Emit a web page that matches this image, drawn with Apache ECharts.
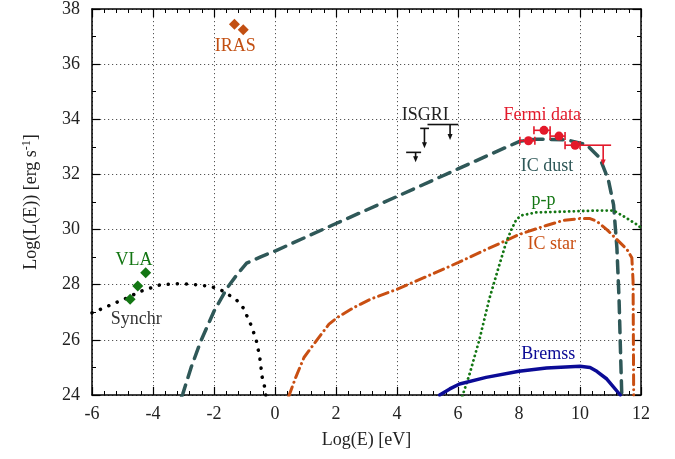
<!DOCTYPE html>
<html><head><meta charset="utf-8">
<script src="https://cdn.jsdelivr.net/npm/echarts@6/dist/echarts.min.js"></script>
<style>html,body{margin:0;padding:0;background:#fff}#c{width:675px;height:459px}</style>
</head><body><div id="c"></div>
<script>
// ---- data (log E [eV], log L [erg/s]) ----
const synchr = [[-6,26.98],[-5.9,27.02],[-5.32,27.3],[-4.89,27.5],[-4.41,27.76],[-3.76,28.0],[-3.1,28.04],[-2.75,28.02],[-2.1,27.94],[-1.68,27.76],[-1.25,27.43],[-1.04,27.16],[-0.77,26.5],[-0.61,25.96],[-0.5,25.37],[-0.42,24.65],[-0.34,24.29],[-0.3,24.0]];
const icDust = [[-3.06,23.95],[-3.02,24.05],[-2.75,25.0],[-2.43,25.96],[-2.0,27.04],[-1.57,27.88],[-1.25,28.36],[-0.93,28.78],[-0.45,29.02],[0,29.22],[2,30.22],[4,31.2],[6,32.2],[7.04,32.72],[8.02,33.2],[8.57,33.28],[9.55,33.26],[10.21,33.08],[10.65,32.6],[10.93,31.8],[11.1,30.9],[11.21,29.34],[11.28,27.5],[11.33,25.5],[11.37,24.0]];
const icStar = [[0.45,23.95],[0.47,24.0],[0.68,24.64],[0.95,25.36],[1.39,26.02],[1.77,26.57],[2.04,26.81],[2.58,27.17],[3.12,27.47],[3.99,27.83],[4.75,28.19],[6.0,28.8],[6.81,29.22],[7.57,29.6],[8.0,29.82],[8.87,30.14],[9.45,30.33],[10.0,30.4],[10.33,30.4],[10.55,30.3],[10.88,30.0],[11.21,29.64],[11.54,29.28],[11.7,28.98],[11.74,28.13],[11.76,24.0]];
const pp = [[6.14,23.95],[6.16,24.0],[6.38,24.76],[6.7,26.0],[7.03,27.5],[7.35,28.7],[7.57,29.5],[7.75,30.0],[7.92,30.38],[8.11,30.52],[8.55,30.62],[9.45,30.65],[10.55,30.69],[11.1,30.69],[11.43,30.48],[11.87,30.18],[12.0,30.06]];
const bremss = [[5.4,24.0],[5.73,24.22],[6.05,24.4],[6.92,24.64],[8.0,24.86],[8.9,24.98],[10.0,25.04],[10.33,25.0],[10.55,24.86],[10.88,24.58],[11.32,24.0]];
const vla = [[-4.75,27.47],[-4.5,27.95],[-4.24,28.43]];
const iras = [[-1.33,37.45],[-1.04,37.25]];
const fermiPts = [[8.31,33.22],[8.82,33.6],[9.31,33.39],[9.84,33.06]];
const fermiBars = [[8.03,8.52,33.22],[8.49,9.02,33.6],[9.02,9.51,33.39],[9.51,10.0,33.06]];
// upper limits: [xLow, xHigh, y, xArrow, yArrowEnd]
const fermiUL = [[10.0,11.02,33.06,10.76,32.32]];
const isgriUL = [[4.3,4.79,32.8,4.61,32.44],[4.76,5.05,33.67,4.9,32.95],[5.0,6.01,33.81,5.74,33.25]];
const labels = [
  ['IRAS',-1.3,36.65,'#c24f12'],['ISGRI',4.93,34.16,'#222222'],['Fermi data',8.76,34.16,'#e3192a'],
  ['IC dust',8.92,32.3,'#2f5858'],['p-p',8.8,31.08,'#137613'],['IC star',9.07,29.46,'#c94f12'],
  ['VLA',-4.62,28.9,'#137613'],['Synchr',-4.55,26.73,'#333333'],['Bremss',8.96,25.48,'#0b0b96']
];
const xMin=-6, xMax=12, xStep=2, yMin=24, yMax=38, yStep=2;

const FONT = "'Liberation Serif','Times New Roman',serif";
const chart = echarts.init(document.getElementById('c'), null, {renderer:'canvas'});

function lineSeries(data, color, width, type, cap){
  return {type:'line', data:data, symbol:'none', showSymbol:false, smooth:false,
    clip:true, silent:true, z:3, lineStyle:{color:color, width:width, type:type, cap:cap||'butt', join:'round', opacity:1}};
}
function barRender(color, capH){
  return function(params, api){
    const a = api.coord([api.value(0), api.value(2)]);
    const b = api.coord([api.value(1), api.value(2)]);
    const st = {stroke:color, lineWidth:1.6};
    return {type:'group', children:[
      {type:'line', shape:{x1:a[0],y1:a[1],x2:b[0],y2:b[1]}, style:st},
      {type:'line', shape:{x1:a[0],y1:a[1]-capH,x2:a[0],y2:a[1]+capH}, style:st},
      {type:'line', shape:{x1:b[0],y1:b[1]-capH,x2:b[0],y2:b[1]+capH}, style:st}
    ]};
  };
}
function ulRender(color){
  return function(params, api){
    const a = api.coord([api.value(0), api.value(2)]);
    const b = api.coord([api.value(1), api.value(2)]);
    const t = api.coord([api.value(3), api.value(2)]);
    const e = api.coord([api.value(3), api.value(4)]);
    const st = {stroke:color, lineWidth:1.6};
    return {type:'group', children:[
      {type:'line', shape:{x1:a[0],y1:a[1],x2:b[0],y2:b[1]}, style:st},
      {type:'line', shape:{x1:t[0],y1:t[1],x2:e[0],y2:e[1]-4}, style:st},
      {type:'polygon', shape:{points:[[e[0]-2.5,e[1]-6],[e[0]+2.5,e[1]-6],[e[0],e[1]]]}, style:{fill:color}}
    ]};
  };
}

const axisCommon = {min:xMin, max:xMax, interval:xStep};
const option = {
  animation:false,
  backgroundColor:'#ffffff',
  grid:{left:92, right:34, top:5, bottom:64, containLabel:false},
  xAxis:[
    Object.assign({type:'value', position:'bottom', name:'Log(E) [eV]', nameLocation:'middle', nameGap:36,
      nameTextStyle:{fontFamily:FONT, fontSize:18, color:'#222'},
      axisLine:{onZero:false, lineStyle:{color:'#000', width:1.5}},
      axisTick:{inside:true, length:8, lineStyle:{color:'#000', width:1.2}},
      minorTick:{show:true, splitNumber:5, length:4, lineStyle:{color:'#000', width:1}},
      axisLabel:{fontFamily:FONT, fontSize:18, color:'#222', margin:10},
      splitLine:{show:true, lineStyle:{color:'#555', width:1, type:[1.2,2.8]}}}, axisCommon),
    Object.assign({type:'value', position:'top',
      axisLine:{onZero:false, lineStyle:{color:'#000', width:1.5}},
      axisTick:{inside:true, length:8, lineStyle:{color:'#000', width:1.2}},
      minorTick:{show:true, splitNumber:5, length:4, lineStyle:{color:'#000', width:1}},
      axisLabel:{show:false}, splitLine:{show:false}}, axisCommon)
  ],
  yAxis:[
    {type:'value', position:'left', min:yMin, max:yMax, interval:yStep,
      name:'{a|Log(L(E)) [erg s}{b|-1}{a|]}', nameLocation:'middle', nameGap:50,
      nameTextStyle:{rich:{a:{fontFamily:FONT, fontSize:18, color:'#222'}, b:{fontFamily:FONT, fontSize:12, color:'#222', padding:[0,0,9,0]}}},
      axisLine:{onZero:false, lineStyle:{color:'#000', width:1.5}},
      axisTick:{inside:true, length:8, lineStyle:{color:'#000', width:1.2}},
      minorTick:{show:true, splitNumber:2, length:4, lineStyle:{color:'#000', width:1}},
      axisLabel:{fontFamily:FONT, fontSize:18, color:'#222', margin:12},
      splitLine:{show:true, lineStyle:{color:'#555', width:1, type:[1.2,2.8]}}},
    {type:'value', position:'right', min:yMin, max:yMax, interval:yStep,
      axisLine:{onZero:false, lineStyle:{color:'#000', width:1.5}},
      axisTick:{inside:true, length:8, lineStyle:{color:'#000', width:1.2}},
      minorTick:{show:true, splitNumber:2, length:4, lineStyle:{color:'#000', width:1}},
      axisLabel:{show:false}, splitLine:{show:false}}
  ],
  series:[
    lineSeries(synchr, '#000000', 3.5, [0.1,9], 'round'),
    lineSeries(icDust, '#2f5858', 3.5, [12,8], 'round'),
    lineSeries(icStar, '#c94f12', 3, [10,5,0.1,5], 'round'),
    lineSeries(pp, '#137613', 2.8, [0.1,4.6], 'round'),
    lineSeries(bremss, '#0b0b96', 3.5, 'solid', 'round'),
    {type:'scatter', data:vla, symbol:'diamond', symbolSize:11, itemStyle:{color:'#137613', opacity:1}, z:5, silent:true},
    {type:'scatter', data:iras, symbol:'diamond', symbolSize:11, itemStyle:{color:'#c24f12', opacity:1}, z:5, silent:true},
    {type:'custom', data:fermiBars, renderItem:barRender('#e3192a', 4), z:5, silent:true},
    {type:'scatter', data:fermiPts, symbol:'circle', symbolSize:9, itemStyle:{color:'#e3192a', opacity:1}, z:6, silent:true},
    {type:'custom', data:fermiUL, renderItem:ulRender('#e3192a'), z:5, silent:true},
    {type:'custom', data:isgriUL, renderItem:ulRender('#111111'), z:5, silent:true},
    {type:'scatter', symbolSize:0, silent:true, z:7, itemStyle:{opacity:1},
      data:labels.map(l=>({value:[l[1],l[2]], label:{show:true, position:'inside', formatter:l[0], color:l[3], fontFamily:FONT, fontSize:18, opacity:1}}))}
  ]
};
chart.setOption(option);
</script>
</body></html>
